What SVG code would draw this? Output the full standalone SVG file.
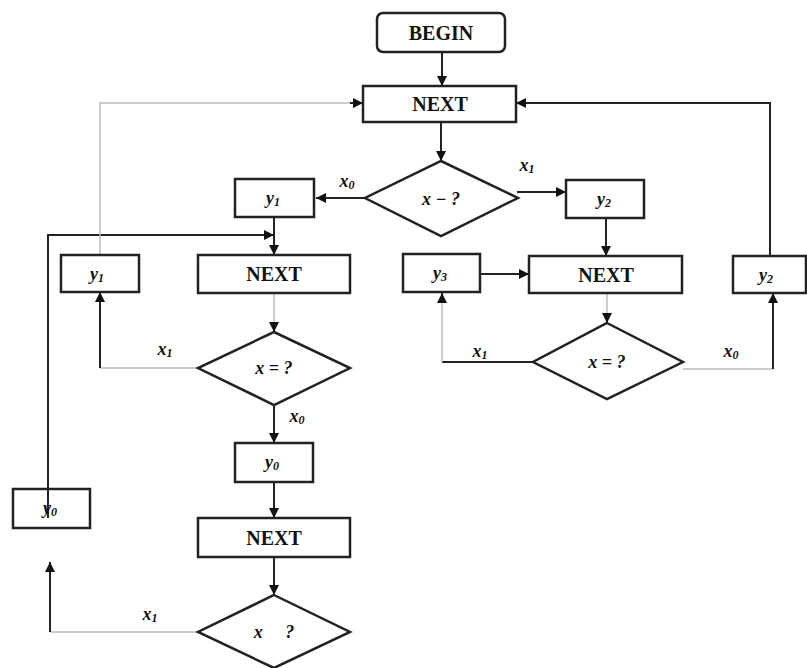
<svg xmlns="http://www.w3.org/2000/svg" width="807" height="668" viewBox="0 0 807 668">
<defs>
<marker id="ah" viewBox="0 0 10 10" refX="10" refY="5" markerWidth="5" markerHeight="5" orient="auto" markerUnits="strokeWidth">
<path d="M0,0 L10,5 L0,10 z" fill="#111"/>
</marker>
<style>
.box{fill:#fff;stroke:#222;stroke-width:2.5}
.dk{fill:none;stroke:#222;stroke-width:2}
.lt{fill:none;stroke:#bbb;stroke-width:1.5}
.t{font-family:"Liberation Serif",serif;font-weight:bold;font-size:20px;text-anchor:middle;fill:#111}
.v{font-family:"Liberation Serif",serif;font-style:italic;font-weight:bold;font-size:18px;text-anchor:middle;fill:#111}
.s{font-size:12px}
</style>
</defs>
<rect width="807" height="668" fill="#fff"/>
<g id="connectors">
<path class="dk" d="M442 52 V86" marker-end="url(#ah)"/>
<path class="dk" d="M441 122 V161" marker-end="url(#ah)"/>
<path class="dk" d="M365 198 H316" marker-end="url(#ah)"/>
<path class="dk" d="M517 192 H566" marker-end="url(#ah)"/>
<path class="dk" d="M606 218 V256" marker-end="url(#ah)"/>
<path class="dk" d="M274 217 V255" marker-end="url(#ah)"/>
<path class="dk" d="M48 518 V235 H274" marker-end="url(#ah)"/>
<path class="lt" d="M100 255 V103 H363"/>
<path class="dk" d="M350 103 H363" marker-end="url(#ah)"/>
<path class="dk" d="M770 256 V103 H516" marker-end="url(#ah)"/>
<path class="lt" d="M274 293 V332"/>
<path class="dk" d="M274 322 V332" marker-end="url(#ah)"/>
<path class="lt" d="M198 368 H100"/>
<path class="dk" d="M100 368 V292" marker-end="url(#ah)"/>
<path class="dk" d="M274 405 V443" marker-end="url(#ah)"/>
<path class="dk" d="M274 482 V518" marker-end="url(#ah)"/>
<path class="dk" d="M274 557 V595" marker-end="url(#ah)"/>
<path class="lt" d="M198 632 H50"/>
<path class="dk" d="M50 632 V562" marker-end="url(#ah)"/>
<path class="dk" d="M480 274 H529" marker-end="url(#ah)"/>
<path class="lt" d="M607 293 V323"/>
<path class="dk" d="M607 313 V323" marker-end="url(#ah)"/>
<path class="dk" d="M533 362 H442"/>
<path class="lt" d="M442 362 V293"/>
<path class="dk" d="M442 303 V293" marker-end="url(#ah)"/>
<path class="lt" d="M683 369 H773"/>
<path class="dk" d="M773 369 V293" marker-end="url(#ah)"/>
<text class="v" x="347" y="187">x<tspan class="s" dy="2">0</tspan></text>
<text class="v" x="527" y="171">x<tspan class="s" dy="2">1</tspan></text>
<text class="v" x="165" y="355">x<tspan class="s" dy="2">1</tspan></text>
<text class="v" x="297" y="422">x<tspan class="s" dy="2">0</tspan></text>
<text class="v" x="150" y="620">x<tspan class="s" dy="2">1</tspan></text>
<text class="v" x="480" y="357">x<tspan class="s" dy="2">1</tspan></text>
<text class="v" x="731" y="357">x<tspan class="s" dy="2">0</tspan></text>
</g>
<g id="begin"><rect class="box" x="377" y="13" width="128" height="39" rx="6"/><text class="t" x="441" y="40">BEGIN</text></g>
<g id="next1"><rect class="box" x="363" y="86" width="153" height="36"/><text class="t" x="440" y="111">NEXT</text></g>
<g id="dec1"><polygon class="box" points="441,161 518,198 441,236 365,198"/><text class="v" x="441" y="205">x − ?</text></g>
<g id="y1a"><rect class="box" x="235" y="179" width="79" height="38"/><text class="v" x="273" y="204">y<tspan class="s" dy="2">1</tspan></text></g>
<g id="y2a"><rect class="box" x="566" y="180" width="78" height="38"/><text class="v" x="604" y="205">y<tspan class="s" dy="2">2</tspan></text></g>
<g id="y1b"><rect class="box" x="61" y="255" width="78" height="37"/><text class="v" x="97" y="280">y<tspan class="s" dy="2">1</tspan></text></g>
<g id="next2"><rect class="box" x="198" y="255" width="152" height="38"/><text class="t" x="274" y="281">NEXT</text></g>
<g id="y3"><rect class="box" x="403" y="254" width="77" height="38"/><text class="v" x="440" y="279">y<tspan class="s" dy="2">3</tspan></text></g>
<g id="next3"><rect class="box" x="529" y="256" width="153" height="37"/><text class="t" x="606" y="282">NEXT</text></g>
<g id="y2b"><rect class="box" x="733" y="256" width="73" height="37"/><text class="v" x="766" y="281">y<tspan class="s" dy="2">2</tspan></text></g>
<g id="dec2"><polygon class="box" points="274,332 350,368 274,405 198,368"/><text class="v" x="274" y="374">x = ?</text></g>
<g id="dec4"><polygon class="box" points="607,323 683,362 607,399 533,362"/><text class="v" x="607" y="368">x = ?</text></g>
<g id="y0a"><rect class="box" x="235" y="443" width="78" height="39"/><text class="v" x="272" y="468">y<tspan class="s" dy="2">0</tspan></text></g>
<g id="y0b"><rect class="box" x="13" y="489" width="77" height="39" style="fill:none"/><text class="v" x="50" y="514">y<tspan class="s" dy="2">0</tspan></text></g>
<g id="next4"><rect class="box" x="198" y="518" width="152" height="39"/><text class="t" x="274" y="545">NEXT</text></g>
<g id="dec3"><polygon class="box" points="274,595 350,632 274,668 198,632"/><text class="v" x="274" y="638" xml:space="preserve">x     ?</text></g>
</svg>
